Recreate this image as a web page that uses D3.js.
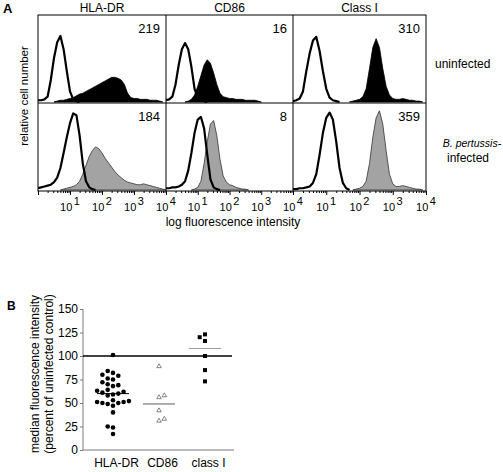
<!DOCTYPE html>
<html><head><meta charset="utf-8">
<script src="https://cdn.jsdelivr.net/npm/d3@7"></script>
<style>body{margin:0;background:#fff} svg{display:block;font-family:"Liberation Sans",Arial,sans-serif}</style>
</head><body><svg id="c" width="503" height="472"></svg>
<script>
// ---------------- DATA ----------------
const markers = ["HLA-DR", "CD86", "Class I"];
const rowLabels = ["uninfected", "B. pertussis-", "infected"];
const mfiUninfected = [219, 16, 310];
const mfiInfected = [184, 8, 359];
const decadeLabels = [1, 2, 3, 4];
const binStep = 0.1; // log10 units per histogram bin (0 .. 4)

// histogram heights (% of panel height) starting at bin index `start`
const hlaUninfIsotype = {start: 0, v: [2,2,3,6,25,50,68,75,60,35,12,3,1]};
const hlaUninfStain   = {start: 6, v: [1,2,2,3,4,5,7,9,10,12,14,16,18,20,22,24,26,28,28,27,25,20,10,5,4,4,3,3,3,2,2,2,1]};
const hlaInfIsotype   = {start: 0, v: [2,3,4,5,6,9,14,25,42,60,76,87,85,62,30,10,3,1]};
const hlaInfStain     = {start: 8, v: [1,2,3,4,6,10,18,28,38,45,49,47,42,36,31,26,21,17,14,11,9,8,7,6,6,7,6,5,4,3,2,1]};
const cdUninfIsotype  = {start: 0, v: [2,3,6,20,42,60,67,60,40,15,5,2,1]};
const cdUninfStain    = {start: 7, v: [1,3,8,18,30,42,48,44,33,20,10,6,5,4,4,3,3,3,2,2,2,2,1]};
const cdInfIsotype    = {start: 0, v: [2,2,3,3,4,6,10,22,42,65,80,83,70,40,12,3,1]};
const cdInfStain      = {start: 9, v: [1,3,10,30,55,75,79,62,35,16,9,6,5,3,2,1,1]};
const clUninfIsotype  = {start: 0, v: [1,2,4,12,35,55,70,74,58,35,15,5,2,1]};
const clUninfStain    = {start: 18, v: [1,2,3,6,15,38,62,72,62,38,18,8,4,3,3,4,3,2,2,1,1]};
const clInfIsotype    = {start: 0, v: [1,1,2,2,3,4,8,18,40,65,82,88,80,55,25,8,2]};
const clInfStain      = {start: 19, v: [1,2,4,10,30,60,82,90,75,45,18,7,4,4,5,4,3,2,1,1]};

// Panel B
const groupsB = ["HLA-DR", "CD86", "class I"];
const hlaDRValues = [101,84,82,80,79,76,75,72,70,69,68,64,63,62,61,60,59,58,53,52,51,51,50,50,49,47,40,25,24,17];
const cd86Values = [89,58,56,42,33,31];
const classIValues = [123,120,116,100,85,73];
const groupLines = [60, 49, 108];
const yTicksB = [0,25,50,75,100,125,150];

// ---------------- DRAW ----------------
const svg = d3.select("#c");
const font = "Liberation Sans, Arial, sans-serif";

const panelEdges = [38, 166, 293, 426];
const rowTop = [15, 103], rowBase = [102, 190], panelH = 88;
const hists = [
  [[hlaUninfIsotype, hlaUninfStain], [hlaInfIsotype, hlaInfStain]],
  [[cdUninfIsotype, cdUninfStain], [cdInfIsotype, cdInfStain]],
  [[clUninfIsotype, clUninfStain], [clInfIsotype, clInfStain]]
];
const mfi = [mfiUninfected, mfiInfected];

function expand(h) {
  const pts = [];
  h.v.forEach((d, i) => pts.push({b: (h.start + i) * binStep, c: d}));
  pts.unshift({b: Math.max(0, h.start * binStep - binStep), c: 0});
  pts.push({b: Math.min(4, (h.start + h.v.length) * binStep), c: 0});
  return pts;
}

const defs = svg.append("defs");

markers.forEach((m, ci) => {
  const x = d3.scaleLog().domain([1, 1e4]).range([panelEdges[ci], panelEdges[ci + 1]]);
  [0, 1].forEach(ri => {
    const y = d3.scaleLinear().domain([0, 100]).range([rowBase[ri], rowBase[ri] - panelH]);
    const id = `clip${ci}${ri}`;
    defs.append("clipPath").attr("id", id).append("rect")
      .attr("x", panelEdges[ci]).attr("y", rowTop[ri])
      .attr("width", panelEdges[ci + 1] - panelEdges[ci]).attr("height", panelH);
    const g = svg.append("g").attr("clip-path", `url(#${id})`);
    const [iso, stain] = hists[ci][ri];
    const area = d3.area().x(d => x(Math.pow(10, d.b))).y0(y(0)).y1(d => y(d.c));
    const line = d3.line().x(d => x(Math.pow(10, d.b))).y(d => y(d.c));
    g.append("path").datum(expand(stain)).attr("d", area)
      .attr("fill", ri === 0 ? "#000" : "#a3a3a3")
      .attr("stroke", ri === 0 ? "#000" : "#333").attr("stroke-width", 0.8);
    const isoPts = expand(iso);
    isoPts.shift();
    isoPts.unshift({b: 0, c: iso.v[0]});
    g.append("path").datum(isoPts).attr("d", line)
      .attr("fill", "none").attr("stroke", "#000").attr("stroke-width", 2.2)
      .attr("stroke-linejoin", "round");
    svg.append("text").attr("x", panelEdges[ci + 1] - 6).attr("y", rowTop[ri] + 18)
      .attr("text-anchor", "end").attr("font-size", 13).text(mfi[ri][ci]);
  });
  const minor = [];
  for (let k = 0; k < 4; k++) for (let j = 1; j <= 9; j++) minor.push(j * Math.pow(10, k));
  minor.push(1e4);
  const axis = svg.append("g").attr("transform", "translate(0,191)")
    .call(d3.axisBottom(x).tickValues(minor).tickSize(2).tickFormat(""));
  axis.select(".domain").remove();
  axis.selectAll(".tick line").attr("stroke", "#000")
    .attr("y2", d => (Math.log10(d) % 1 === 0 ? 4 : 2));
  decadeLabels.forEach(e => {
    const t = svg.append("text").attr("x", x(Math.pow(10, e))).attr("y", 211)
      .attr("text-anchor", "middle").attr("font-size", 11);
    t.append("tspan").text("10");
    t.append("tspan").attr("dy", -6).attr("dx", 1.5).text(e);
  });
  svg.append("text").attr("x", (panelEdges[ci] + panelEdges[ci + 1]) / 2).attr("y", 12)
    .attr("text-anchor", "middle").attr("font-size", 12).text(m);
});

svg.append("rect").attr("x", panelEdges[0]).attr("y", rowTop[0])
  .attr("width", panelEdges[3] - panelEdges[0]).attr("height", 191 - rowTop[0])
  .attr("fill", "none").attr("stroke", "#000").attr("stroke-width", 1);
[1, 2].forEach(i => svg.append("line").attr("x1", panelEdges[i]).attr("x2", panelEdges[i])
  .attr("y1", rowTop[0]).attr("y2", 191).attr("stroke", "#000"));
svg.append("line").attr("x1", panelEdges[0]).attr("x2", panelEdges[3])
  .attr("y1", 103).attr("y2", 103).attr("stroke", "#000");

svg.append("text").attr("x", 3).attr("y", 13).attr("font-size", 13).attr("font-weight", "bold").text("A");
svg.append("text").attr("transform", "translate(28,96) rotate(-90)").attr("text-anchor", "middle")
  .attr("font-size", 11.5).text("relative cell number");
svg.append("text").attr("x", 233).attr("y", 226).attr("text-anchor", "middle")
  .attr("font-size", 12).text("log fluorescence intensity");
svg.append("text").attr("x", 435).attr("y", 68).attr("font-size", 12).text(rowLabels[0]);
svg.append("text").attr("x", 472).attr("y", 147).attr("text-anchor", "middle")
  .attr("font-size", 10.5).attr("font-style", "italic").text(rowLabels[1]);
svg.append("text").attr("x", 468).attr("y", 162).attr("text-anchor", "middle")
  .attr("font-size", 12).text(rowLabels[2]);

// ---------------- PANEL B ----------------
const yB = d3.scaleLinear().domain([0, 150]).range([450, 309]);
const xB = d3.scalePoint().domain(groupsB).range([113, 205]);
const axisColor = "#7a7a7a";

const yAx = svg.append("g").attr("transform", "translate(83,0)")
  .call(d3.axisLeft(yB).tickValues(yTicksB).tickSize(3).tickPadding(2));
yAx.select(".domain").attr("stroke", axisColor).attr("d", `M0,${yB(150)}V${yB(0)}`);
yAx.selectAll(".tick line").attr("stroke", axisColor);
yAx.selectAll(".tick text").attr("font-size", 12).attr("font-family", font).attr("fill", "#000");

const xAx = svg.append("g").attr("transform", "translate(0,450)")
  .call(d3.axisBottom(xB).tickSize(0).tickPadding(10));
xAx.select(".domain").attr("stroke", axisColor).attr("d", "M83,0H234");
xAx.selectAll(".tick text").attr("font-size", 12).attr("font-family", font).attr("fill", "#000")
  .attr("dx", 3).attr("dy", "0.55em");

svg.append("line").attr("x1", 83).attr("x2", 232).attr("y1", yB(100)).attr("y2", yB(100))
  .attr("stroke", "#000").attr("stroke-width", 1.5);

const lineColors = ["#000", "#9a9a9a", "#9a9a9a"];
const lineWidths = [1, 1.6, 1];
groupsB.forEach((gname, i) => {
  svg.append("line").attr("x1", xB(gname) - 16).attr("x2", xB(gname) + 16)
    .attr("y1", yB(groupLines[i])).attr("y2", yB(groupLines[i]))
    .attr("stroke", lineColors[i]).attr("stroke-width", lineWidths[i]);
});

function swarm(values, cx, pref) {
  const placed = [];
  const step = 5.3, minD = 4.8;
  values.slice().sort((a, b) => a - b).forEach(v => {
    const yy = yB(v);
    for (const k of pref) {
      const xx = cx + k * step;
      if (placed.every(p => (p.x - xx) ** 2 + (p.y - yy) ** 2 >= minD * minD)) {
        placed.push({x: xx, y: yy, v}); break;
      }
    }
  });
  return placed;
}
const pts1 = swarm(hlaDRValues, xB(groupsB[0]), [0, -1, 1, -2, 2, -3, 3]);
svg.append("g").selectAll("circle").data(pts1).join("circle")
  .attr("cx", d => d.x).attr("cy", d => d.y).attr("r", 2.3).attr("fill", "#000");

const pts2 = swarm(cd86Values, xB(groupsB[1]), [0, 1, -1, 2, -2]);
const tri = d3.symbol().type(d3.symbolTriangle).size(9);
svg.append("g").selectAll("path").data(pts2).join("path")
  .attr("transform", d => `translate(${d.x},${d.y})`).attr("d", tri)
  .attr("fill", "#fff").attr("stroke", "#555").attr("stroke-width", 0.7);

const pts3 = swarm(classIValues, xB(groupsB[2]), [0, -1, 1, -2, 2]);
svg.append("g").selectAll("rect").data(pts3).join("rect")
  .attr("x", d => d.x - 2).attr("y", d => d.y - 2).attr("width", 4).attr("height", 4).attr("fill", "#000");

svg.append("text").attr("x", 7).attr("y", 310).attr("font-size", 12).attr("font-weight", "bold").text("B");
const yt = svg.append("text").attr("transform", "translate(0,374) rotate(-90)")
  .attr("text-anchor", "middle").attr("font-size", 12);
yt.append("tspan").attr("x", 0).attr("y", 39).text("median fluorescence intensity");
yt.append("tspan").attr("x", 0).attr("y", 53).text("(percent of uninfected control)");
</script></body></html>
